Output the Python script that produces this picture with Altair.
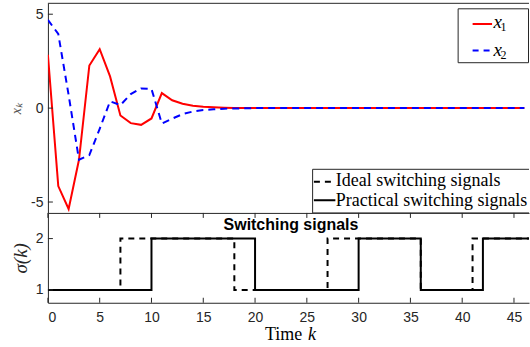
import altair as alt
import pandas as pd

# ---- data -------------------------------------------------------------
k = list(range(47))
x1 = [2.84, -4.15, -5.37, -2.75, 2.27, 3.14, 1.69, -0.39, -0.80, -0.89,
      -0.55, 0.80, 0.42, 0.23, 0.13, 0.07, 0.04, 0.02, 0.01, 0.01,
      0.0, 0.0, 0.0, 0.0, 0.0, 0.0, 0.0, 0.0, 0.0, 0.0,
      0.0, 0.0, 0.0, 0.0, 0.0, 0.0, 0.0, 0.0, 0.0, 0.0,
      0.0, 0.0, 0.0, 0.0, 0.0, 0.0, 0.0]
x2 = [4.70, 3.95, 0.70, -2.75, -2.50, -1.10, 0.36, 0.16, 0.75, 1.05,
      1.02, -0.82, -0.56, -0.32, -0.18, -0.10, -0.06, -0.03, -0.02, -0.01,
      0.0, 0.0, 0.0, 0.0, 0.0, 0.0, 0.0, 0.0, 0.0, 0.0,
      0.0, 0.0, 0.0, 0.0, 0.0, 0.0, 0.0, 0.0, 0.0, 0.0,
      0.0, 0.0, 0.0, 0.0, 0.0, 0.0, 0.0]

ideal_k = [0, 7, 18, 27, 36, 41, 50]
ideal_mode = [1, 2, 1, 2, 1, 2, 2]
practical_k = [0, 10, 20, 30, 36, 42, 50]
practical_mode = [1, 2, 1, 2, 1, 2, 2]

x_ticks = [0, 5, 10, 15, 20, 25, 30, 35, 40, 45]
top_yticks = [-5, 0, 5]
bot_yticks = [1, 2]

states = pd.DataFrame({"k": k, "x1": x1, "x2": x2})
ideal = pd.DataFrame({"k": ideal_k, "mode": ideal_mode})
practical = pd.DataFrame({"k": practical_k, "mode": practical_mode})
xt = pd.DataFrame({"t": x_ticks})
yt_top = pd.DataFrame({"v": top_yticks})
yt_bot = pd.DataFrame({"v": bot_yticks})
one = pd.DataFrame({"a": [0]})

# ---- styling ----------------------------------------------------------
AX = "#262626"
W, H_TOP, H_BOT = 482, 210, 90
SANS = "Liberation Sans"
SERIF = "Liberation Serif"

xs = alt.Scale(domain=[0, 46.45], nice=False, zero=False)
ys_top = alt.Scale(domain=[-5.58, 5.58], nice=False, zero=False)
ys_bot = alt.Scale(domain=[0.75, 2.5], nice=False, zero=False)

x_axis_top = alt.Axis(labels=False, ticks=False, tickSize=0, domain=True,
                      domainColor=AX, domainWidth=1, grid=False, title=None)
y_axis_top = alt.Axis(values=top_yticks, ticks=False, tickSize=0, labelPadding=5,
                      labelExpr="'' + datum.value", labelFont=SANS, labelFontSize=14,
                      labelColor=AX, domainColor=AX, grid=False,
                      title="xₖ", titleFont=SERIF, titleFontStyle="italic",
                      titleFontWeight="normal", titleFontSize=14, titleColor="#555555",
                      titleAngle=270, titleX=-31.5, titleY=105, titleAlign="center",
                      titleBaseline="middle")
x_axis_bot = alt.Axis(values=x_ticks, ticks=False, tickSize=0, labelPadding=8,
                      labelFont=SANS, labelFontSize=14, labelColor=AX,
                      domainColor=AX, grid=False, title=None)
y_axis_bot = alt.Axis(values=bot_yticks, ticks=False, tickSize=0, labelPadding=5,
                      labelFont=SANS, labelFontSize=14, labelColor=AX,
                      domainColor=AX, grid=False,
                      title="σ(k)", titleFont=SERIF, titleFontStyle="italic",
                      titleFontWeight="normal", titleFontSize=19, titleColor=AX,
                      titleAngle=270, titleX=-27.5, titleY=45, titleAlign="center",
                      titleBaseline="middle")

# ---- top panel: state trajectories ------------------------------------
X_top = alt.X("k:Q", scale=xs, axis=x_axis_top)
red = alt.Chart(states).mark_line(color="#ff0000", strokeWidth=2, clip=True).encode(
    x=X_top, y=alt.Y("x1:Q", scale=ys_top, axis=y_axis_top))
blue = alt.Chart(states).mark_line(color="#0000ff", strokeWidth=2, strokeDash=[7, 5],
                                   clip=True).encode(
    x=X_top, y=alt.Y("x2:Q", scale=ys_top, axis=y_axis_top))
top_border = alt.Chart(one).mark_rule(color=AX, strokeWidth=1).encode(
    x=alt.value(0), x2=alt.value(W), y=alt.value(0))
ytick_top = alt.Chart(yt_top).mark_rule(color=AX, strokeWidth=1).encode(
    y=alt.Y("v:Q", scale=ys_top, axis=y_axis_top), x=alt.value(0), x2=alt.value(5))

# legend for x1 / x2
lg_box = alt.Chart(one).mark_rect(fill="white", stroke=AX, strokeWidth=1).encode(
    x=alt.value(411), x2=alt.value(481.5), y=alt.value(5.5), y2=alt.value(59.5))
lg_red = alt.Chart(one).mark_rule(color="#ff0000", strokeWidth=2).encode(
    x=alt.value(425.5), x2=alt.value(445), y=alt.value(20.7))
lg_blue = alt.Chart(one).mark_rule(color="#0000ff", strokeWidth=2, strokeDash=[6, 5]).encode(
    x=alt.value(425.5), x2=alt.value(445), y=alt.value(47.3))
def serif_text(txt, x, y, size, italic=True, clip=False):
    return alt.Chart(one).mark_text(
        text=txt, font=SERIF, fontSize=size, fontStyle="italic" if italic else "normal",
        align="left", baseline="alphabetic", color="black", clip=clip).encode(
        x=alt.value(x), y=alt.value(y))
lg_t1 = serif_text("x", 446.5, 24.7, 19)
lg_s1 = serif_text("1", 453.5, 28.0, 12, italic=False)
lg_t2 = serif_text("x", 446.5, 52.3, 19)
lg_s2 = serif_text("2", 453.5, 56.0, 12, italic=False)

# legend for switching signals (runs past the right edge)
sw_box = alt.Chart(one).mark_rect(fill="white", stroke=AX, strokeWidth=1, clip=True).encode(
    x=alt.value(265.2), x2=alt.value(560), y=alt.value(166.3), y2=alt.value(210))
sw_ideal = alt.Chart(one).mark_rule(color="black", strokeWidth=2, strokeDash=[6, 5]).encode(
    x=alt.value(266.5), x2=alt.value(288), y=alt.value(178.7))
sw_prac = alt.Chart(one).mark_rule(color="black", strokeWidth=2).encode(
    x=alt.value(266.5), x2=alt.value(288), y=alt.value(197.3))
sw_t1 = serif_text("Ideal switching signals", 288.5, 183, 18, italic=False, clip=True)
sw_t2 = serif_text("Practical switching signals", 288.5, 203, 18, italic=False, clip=True)

top = alt.layer(
    red, blue, top_border, ytick_top,
    lg_box, lg_red, lg_blue, lg_t1, lg_s1, lg_t2, lg_s2,
    sw_box, sw_ideal, sw_prac, sw_t1, sw_t2,
).properties(width=W, height=H_TOP)

# ---- bottom panel: switching signals ----------------------------------
X_bot = alt.X("k:Q", scale=xs, axis=x_axis_bot)
ideal_line = alt.Chart(ideal).mark_line(
    color="black", strokeWidth=2, strokeDash=[6, 5], interpolate="step-after",
    clip=True).encode(x=X_bot, y=alt.Y("mode:Q", scale=ys_bot, axis=y_axis_bot))
prac_line = alt.Chart(practical).mark_line(
    color="black", strokeWidth=2, interpolate="step-after",
    clip=True).encode(x=X_bot, y=alt.Y("mode:Q", scale=ys_bot, axis=y_axis_bot))
X_tick = alt.X("t:Q", scale=xs, axis=x_axis_bot)
xtick_b = alt.Chart(xt).mark_rule(color=AX, strokeWidth=1).encode(
    x=X_tick, y=alt.value(H_BOT), y2=alt.value(H_BOT - 5))
xtick_t = alt.Chart(xt).mark_rule(color=AX, strokeWidth=1).encode(
    x=X_tick, y=alt.value(0), y2=alt.value(5))
ytick_b = alt.Chart(yt_bot).mark_rule(color=AX, strokeWidth=1).encode(
    y=alt.Y("v:Q", scale=ys_bot, axis=y_axis_bot), x=alt.value(0), x2=alt.value(5))
sw_title = alt.Chart(one).mark_text(
    text="Switching signals", font=SANS, fontSize=16, fontWeight="bold",
    align="center", baseline="alphabetic", color="black").encode(
    x=alt.value(243.5), y=alt.value(17.5))
time_lbl = serif_text("Time", 217.5, 127, 18, italic=False)
k_lbl = serif_text("k", 260.5, 127, 18)

bottom = alt.layer(
    ideal_line, prac_line, xtick_b, xtick_t, ytick_b, sw_title, time_lbl, k_lbl,
).properties(width=W, height=H_BOT)

chart = alt.vconcat(
    top, bottom, spacing=0, bounds="flush",
    padding={"left": 9, "top": 2, "right": 0, "bottom": 0},
).configure_view(stroke=None)

chart.save("out.html", embed_options={"renderer": "svg", "actions": False})
